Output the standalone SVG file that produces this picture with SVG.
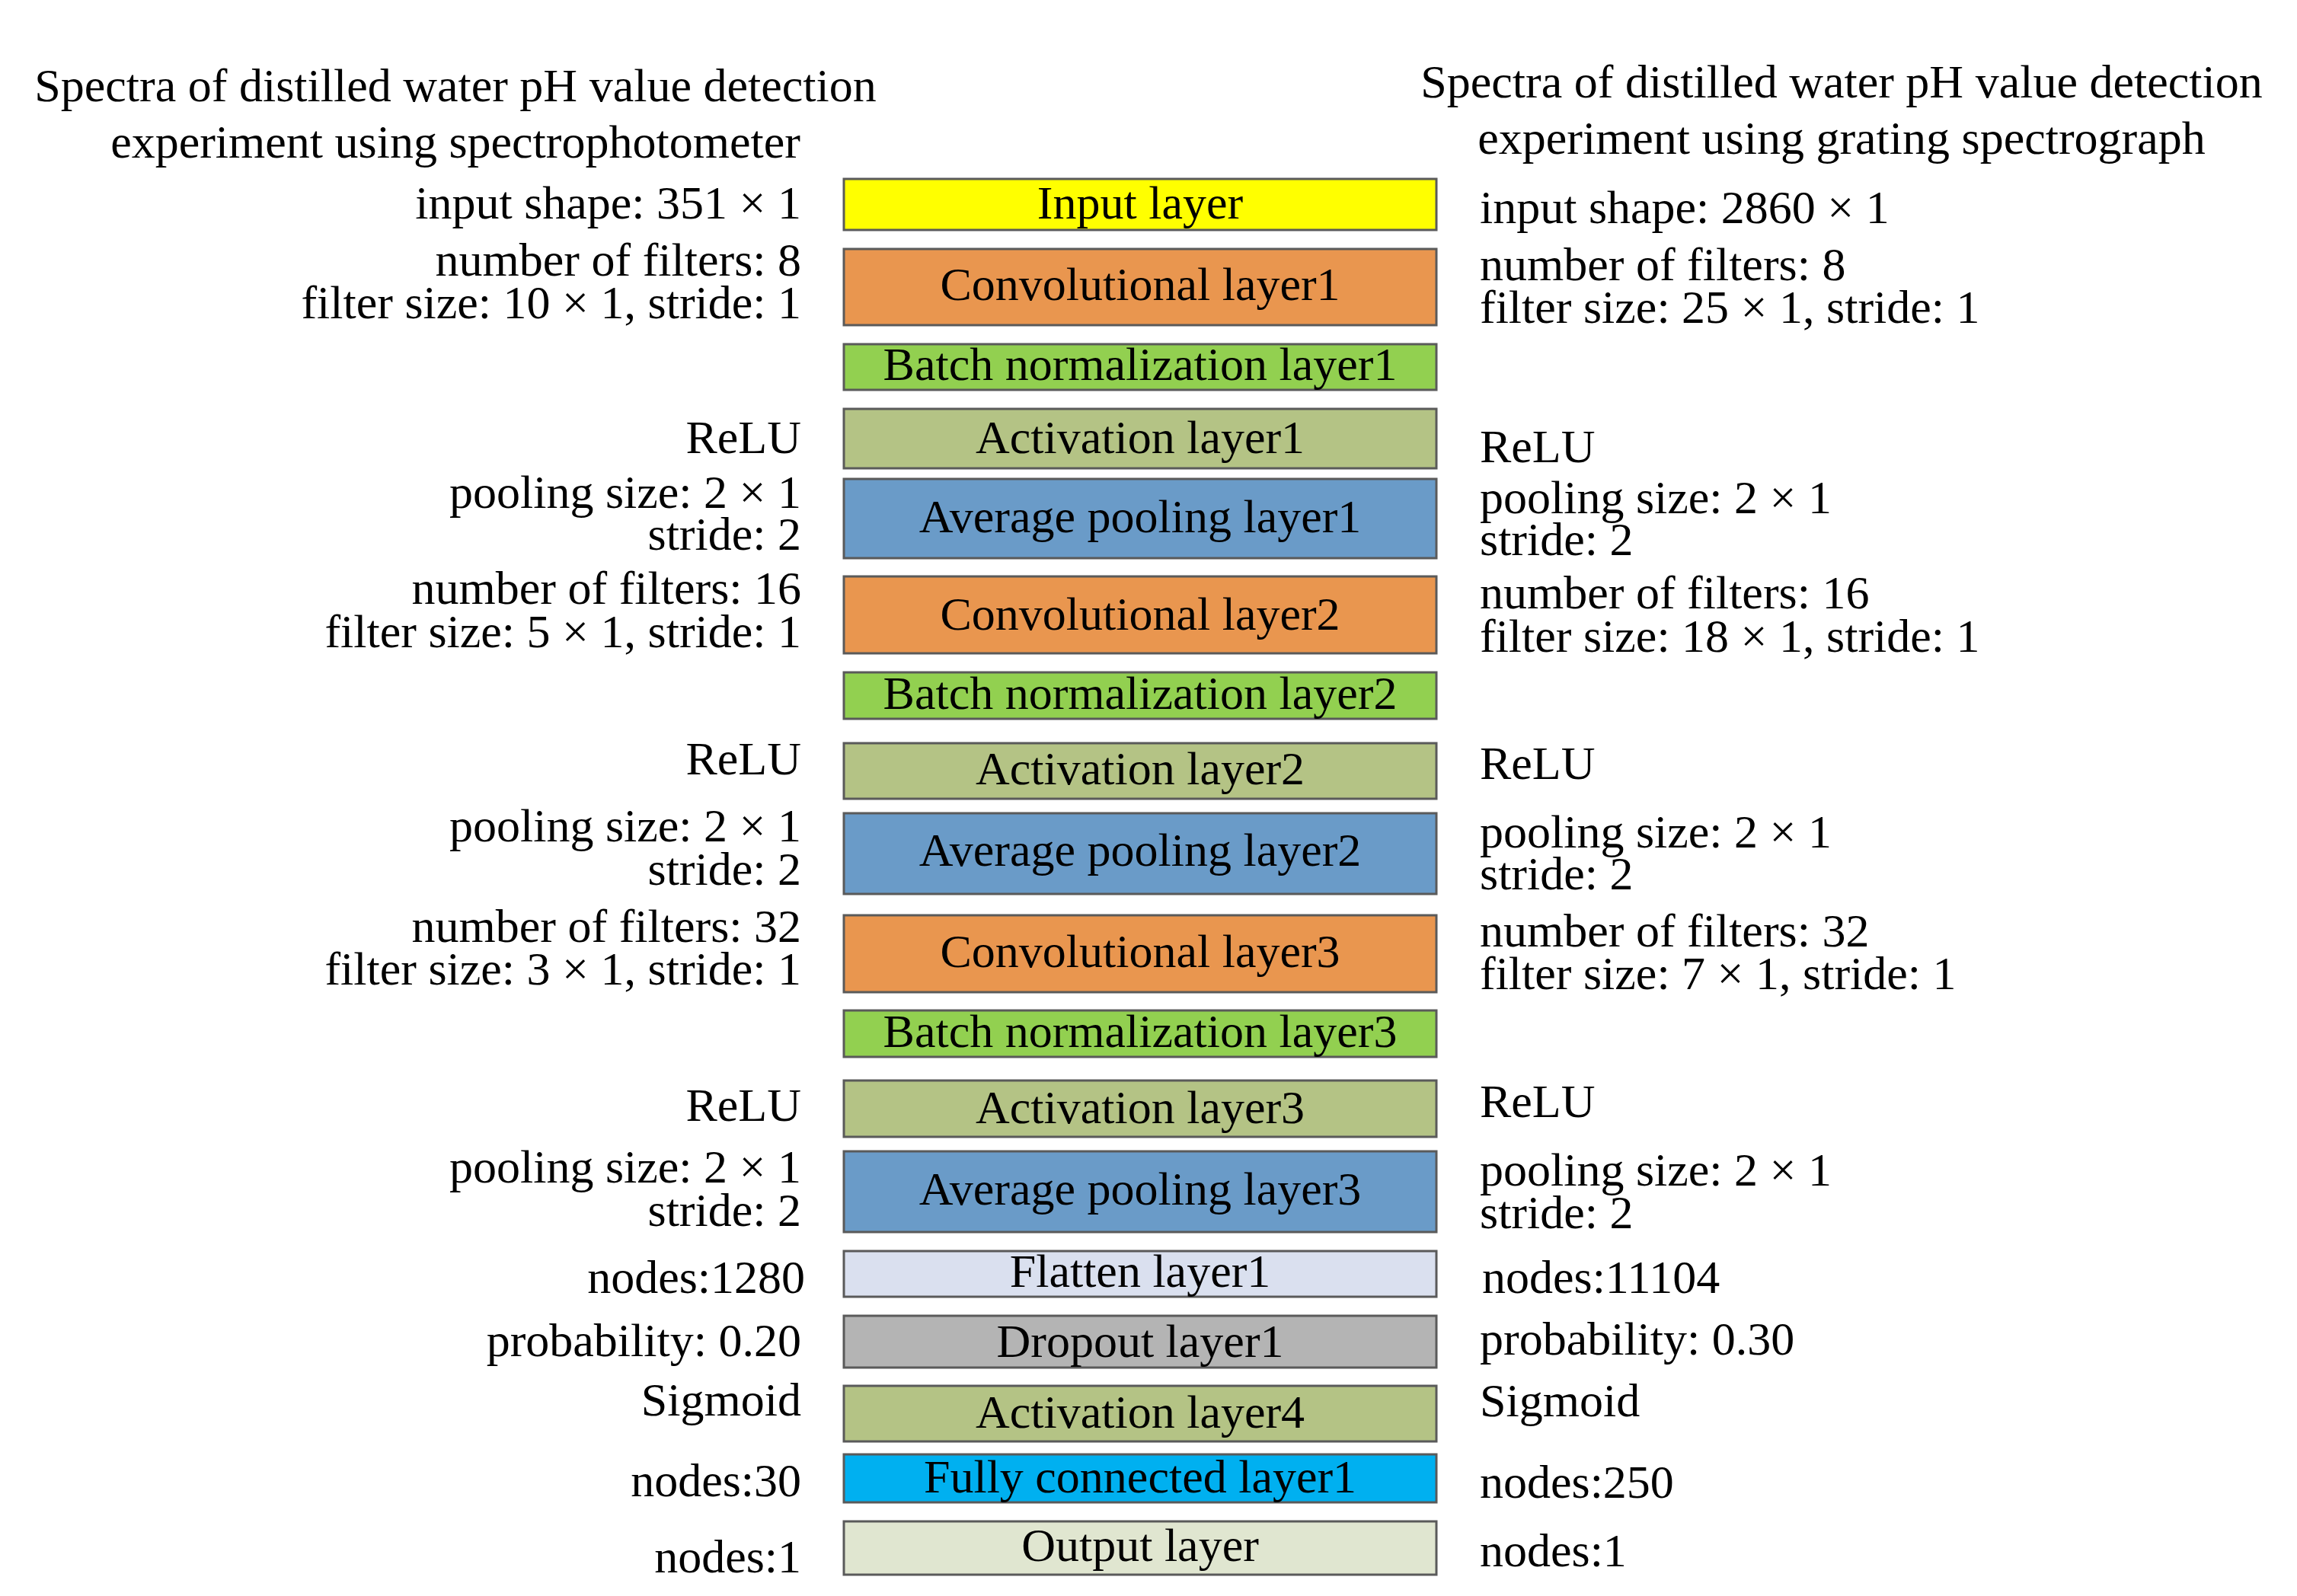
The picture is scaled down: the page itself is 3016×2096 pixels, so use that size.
<svg xmlns="http://www.w3.org/2000/svg" width="3016" height="2096" viewBox="0 0 3016 2096">
<style>
text { font-family: "Liberation Serif", "Times New Roman", serif; font-size: 62px; fill: #000; }
.box { stroke: #5a5a5a; stroke-width: 3; }
.c { text-anchor: middle; }
.l { text-anchor: end; }
.r { text-anchor: start; }
</style>
<rect width="3016" height="2096" fill="#fff"/>
<g id="titles">
  <text class="c" x="598" y="133">Spectra of distilled water pH value detection</text>
  <text class="c" x="598" y="207">experiment using spectrophotometer</text>
  <text class="c" x="2418" y="128">Spectra of distilled water pH value detection</text>
  <text class="c" x="2418" y="202">experiment using grating spectrograph</text>
</g>
<g id="connectors"/>
<g id="input">
  <rect class="box" x="1108" y="235" width="778" height="67" fill="#FFFF00"/>
  <text class="c" x="1497" y="287">Input layer</text>
  <text class="l" x="1052" y="287">input shape: 351 × 1</text>
  <text class="r" x="1943" y="293">input shape: 2860 × 1</text>
</g>
<g id="conv1">
  <rect class="box" x="1108" y="327" width="778" height="100" fill="#E9964F"/>
  <text class="c" x="1497" y="394">Convolutional layer1</text>
  <text class="l" x="1052" y="362">number of filters: 8</text>
  <text class="l" x="1052" y="418">filter size: 10 × 1, stride: 1</text>
  <text class="r" x="1943" y="368">number of filters: 8</text>
  <text class="r" x="1943" y="424">filter size: 25 × 1, stride: 1</text>
</g>
<g id="bn1">
  <rect class="box" x="1108" y="452" width="778" height="60" fill="#92D050"/>
  <text class="c" x="1497" y="499">Batch normalization layer1</text>
</g>
<g id="act1">
  <rect class="box" x="1108" y="537" width="778" height="78" fill="#B4C385"/>
  <text class="c" x="1497" y="595">Activation layer1</text>
  <text class="l" x="1052" y="595">ReLU</text>
  <text class="r" x="1943" y="607">ReLU</text>
</g>
<g id="pool1">
  <rect class="box" x="1108" y="629" width="778" height="104" fill="#6A9BC8"/>
  <text class="c" x="1497" y="699">Average pooling layer1</text>
  <text class="l" x="1052" y="667">pooling size: 2 × 1</text>
  <text class="l" x="1052" y="722">stride: 2</text>
  <text class="r" x="1943" y="674">pooling size: 2 × 1</text>
  <text class="r" x="1943" y="729">stride: 2</text>
</g>
<g id="conv2">
  <rect class="box" x="1108" y="757" width="778" height="101" fill="#E9964F"/>
  <text class="c" x="1497" y="827">Convolutional layer2</text>
  <text class="l" x="1052" y="793">number of filters: 16</text>
  <text class="l" x="1052" y="850">filter size: 5 × 1, stride: 1</text>
  <text class="r" x="1943" y="799">number of filters: 16</text>
  <text class="r" x="1943" y="856">filter size: 18 × 1, stride: 1</text>
</g>
<g id="bn2">
  <rect class="box" x="1108" y="883" width="778" height="61" fill="#92D050"/>
  <text class="c" x="1497" y="931">Batch normalization layer2</text>
</g>
<g id="act2">
  <rect class="box" x="1108" y="976" width="778" height="73" fill="#B4C385"/>
  <text class="c" x="1497" y="1030">Activation layer2</text>
  <text class="l" x="1052" y="1017">ReLU</text>
  <text class="r" x="1943" y="1023">ReLU</text>
</g>
<g id="pool2">
  <rect class="box" x="1108" y="1068" width="778" height="106" fill="#6A9BC8"/>
  <text class="c" x="1497" y="1137">Average pooling layer2</text>
  <text class="l" x="1052" y="1105">pooling size: 2 × 1</text>
  <text class="l" x="1052" y="1162">stride: 2</text>
  <text class="r" x="1943" y="1113">pooling size: 2 × 1</text>
  <text class="r" x="1943" y="1168">stride: 2</text>
</g>
<g id="conv3">
  <rect class="box" x="1108" y="1202" width="778" height="101" fill="#E9964F"/>
  <text class="c" x="1497" y="1270">Convolutional layer3</text>
  <text class="l" x="1052" y="1237">number of filters: 32</text>
  <text class="l" x="1052" y="1293">filter size: 3 × 1, stride: 1</text>
  <text class="r" x="1943" y="1243">number of filters: 32</text>
  <text class="r" x="1943" y="1299">filter size: 7 × 1, stride: 1</text>
</g>
<g id="bn3">
  <rect class="box" x="1108" y="1327" width="778" height="61" fill="#92D050"/>
  <text class="c" x="1497" y="1375">Batch normalization layer3</text>
</g>
<g id="act3">
  <rect class="box" x="1108" y="1419" width="778" height="74" fill="#B4C385"/>
  <text class="c" x="1497" y="1475">Activation layer3</text>
  <text class="l" x="1052" y="1472">ReLU</text>
  <text class="r" x="1943" y="1467">ReLU</text>
</g>
<g id="pool3">
  <rect class="box" x="1108" y="1512" width="778" height="106" fill="#6A9BC8"/>
  <text class="c" x="1497" y="1582">Average pooling layer3</text>
  <text class="l" x="1052" y="1553">pooling size: 2 × 1</text>
  <text class="l" x="1052" y="1610">stride: 2</text>
  <text class="r" x="1943" y="1557">pooling size: 2 × 1</text>
  <text class="r" x="1943" y="1613">stride: 2</text>
</g>
<g id="flatten">
  <rect class="box" x="1108" y="1643" width="778" height="60" fill="#DAE0EF"/>
  <text class="c" x="1497" y="1690">Flatten layer1</text>
  <text class="l" x="1057" y="1698">nodes:1280</text>
  <text class="r" x="1946" y="1698">nodes:11104</text>
</g>
<g id="dropout">
  <rect class="box" x="1108" y="1728" width="778" height="68" fill="#B4B4B4"/>
  <text class="c" x="1497" y="1782">Dropout layer1</text>
  <text class="l" x="1052" y="1781">probability: 0.20</text>
  <text class="r" x="1943" y="1779">probability: 0.30</text>
</g>
<g id="act4">
  <rect class="box" x="1108" y="1820" width="778" height="73" fill="#B4C385"/>
  <text class="c" x="1497" y="1875">Activation layer4</text>
  <text class="l" x="1052" y="1859">Sigmoid</text>
  <text class="r" x="1943" y="1860">Sigmoid</text>
</g>
<g id="fc1">
  <rect class="box" x="1108" y="1910" width="778" height="63" fill="#00B0F0"/>
  <text class="c" x="1497" y="1960">Fully connected layer1</text>
  <text class="l" x="1052" y="1965">nodes:30</text>
  <text class="r" x="1943" y="1967">nodes:250</text>
</g>
<g id="output">
  <rect class="box" x="1108" y="1998" width="778" height="70" fill="#E0E6D0"/>
  <text class="c" x="1497" y="2050">Output layer</text>
  <text class="l" x="1052" y="2065">nodes:1</text>
  <text class="r" x="1943" y="2057">nodes:1</text>
</g>
</svg>
